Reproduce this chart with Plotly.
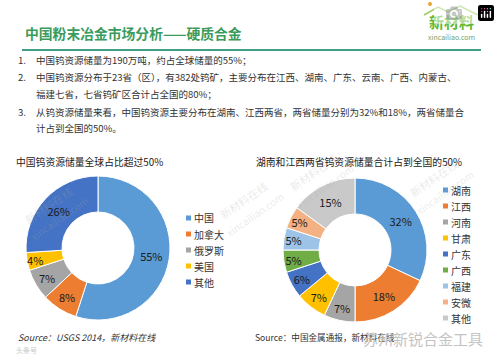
import plotly.graph_objects as go

W, H = 500, 360
FONT = "Noto Sans CJK SC"

# ---- data ----
title = "中国粉末冶金市场分析——硬质合金"
bullets = [
    ("1.", "中国钨资源储量为190万吨，约占全球储量的55%；"),
    ("2.", "中国钨资源分布于23省（区），有382处钨矿，主要分布在江西、湖南、广东、云南、广西、内蒙古、"),
    ("", "福建七省，七省钨矿区合计占全国的80%；"),
    ("3.", "从钨资源储量来看，中国钨资源主要分布在湖南、江西两省，两省储量分别为32%和18%，两省储量合"),
    ("", "计占到全国的50%。"),
]

left_title = "中国钨资源储量全球占比超过50%"
left_labels = ["中国", "加拿大", "俄罗斯", "美国", "其他"]
left_values = [55, 8, 7, 4, 26]
left_colors = ["#5b9bd5", "#ed7d31", "#a5a5a5", "#ffc000", "#4472c4"]
left_source = "Source：USGS 2014，新材料在线"

right_title = "湖南和江西两省钨资源储量合计占到全国的50%"
right_labels = ["湖南", "江西", "河南", "甘肃", "广东", "广西", "福建", "安微", "其他"]
right_values = [32, 18, 7, 7, 6, 5, 5, 5, 15]
right_colors = ["#5b9bd5", "#ed7d31", "#a5a5a5", "#ffc000", "#4472c4",
                "#70ad47", "#9dc3e6", "#f4b183", "#c9c9c9"]
right_source = "Source：中国金属通报，新材料在线"

watermark = "苏州新锐合金工具"


def X(px):
    return px / W


def Y(py):
    return 1 - py / H


fig = go.Figure()


def donut(labels, values, colors, cx, cy, r):
    fig.add_trace(go.Pie(
        labels=labels, values=values, sort=False, direction="clockwise", rotation=0,
        hole=0.5,
        marker=dict(colors=colors, line=dict(color="white", width=1)),
        texttemplate="%{value}%", textposition="inside",
        insidetextorientation="horizontal",
        textfont=dict(family=FONT, size=11, color="#1a1a1a"),
        domain=dict(x=[X(cx - r), X(cx + r)], y=[Y(cy + r), Y(cy - r)]),
        showlegend=False, hoverinfo="label+value",
    ))


donut(left_labels, left_values, left_colors, 98, 248, 72)
donut(right_labels, right_values, right_colors, 355, 250, 72)

ann = []
shapes = []


def text(x, y, s, size=10.5, color="#333", anchor="left", bold=False, italic=False, angle=0):
    if bold:
        s = "<b>" + s + "</b>"
    if italic:
        s = "<i>" + s + "</i>"
    ann.append(dict(x=X(x), y=Y(y), xref="paper", yref="paper", text=s, showarrow=False,
                    xanchor=anchor, yanchor="middle", textangle=angle, borderpad=0,
                    font=dict(family=FONT, size=size, color=color)))


# faint diagonal watermarks
for (wx, wy) in [(20, 205), (215, 200), (285, 172), (405, 178)]:
    text(wx, wy, "新材料在线", size=11, color="rgba(170,170,170,0.25)", angle=-35)
    text(wx + 6, wy + 14, "xincailiao.com", size=10, color="rgba(170,170,170,0.25)", angle=-35)

# header
text(24, 33, title, size=13.8, color="#3a9b5c", bold=True)
shapes.append(dict(type="line", xref="paper", yref="paper", x0=X(22), x1=X(481), y0=Y(50), y1=Y(50),
                   line=dict(color="#3f9f86", width=2)))

# logo
shapes.append(dict(type="path", xref="paper", yref="paper",
                   path=f"M {X(424)} {Y(15)} L {X(438)} {Y(7)} L {X(448)} {Y(12)} L {X(460)} {Y(6)} L {X(478)} {Y(15)}",
                   line=dict(color="#9ccc65", width=1.5)))
shapes.append(dict(type="circle", xref="paper", yref="paper", x0=X(428), x1=X(432), y0=Y(6), y1=Y(2),
                   fillcolor="#f0a030", line=dict(width=0)))
text(451, 21, "新材料", size=15, color="#5fb832", anchor="center", bold=True)
text(451, 37, "xincailiao.com", size=7, color="#7aa060", anchor="center")

# bullets
ys = [60, 77, 94, 112, 128]
for (num, s), yy in zip(bullets, ys):
    if num:
        text(17, yy, num, size=9.6)
    text(35, yy, s, size=9.5)

# chart titles
text(15, 162, left_title, size=9.8, color="#222")
text(255, 162, right_title, size=9.8, color="#222")


# legends
def legend(labels, colors, mx, y0, step):
    for i, (lab, col) in enumerate(zip(labels, colors)):
        yy = y0 + i * step
        shapes.append(dict(type="rect", xref="paper", yref="paper",
                           x0=X(mx), x1=X(mx + 5), y0=Y(yy + 2.5), y1=Y(yy - 2.5),
                           fillcolor=col, line=dict(width=0)))
        text(mx + 7, yy, lab, size=10, color="#333")


legend(left_labels, left_colors, 186, 218, 16)
legend(right_labels, right_colors, 443, 190, 16)

# sources
text(17, 337, left_source, size=9, color="#333", italic=True)
text(254, 337, right_source, size=8.6, color="#333")
text(362, 338, watermark, size=15, color="#c4c4c4")
text(15, 350, "头条号", size=7, color="#c8c8c8")

fig.update_layout(
    width=W, height=H, autosize=False,
    margin=dict(l=0, r=0, t=0, b=0),
    paper_bgcolor="white", plot_bgcolor="white",
    annotations=ann, shapes=shapes, showlegend=False,
    uniformtext=dict(minsize=11, mode="show"),
    font=dict(family=FONT),
)

# remove the browser's default 8px body margin so the figure fills the window
fig.write_html("out.html", post_script="document.body.style.margin='0';")
